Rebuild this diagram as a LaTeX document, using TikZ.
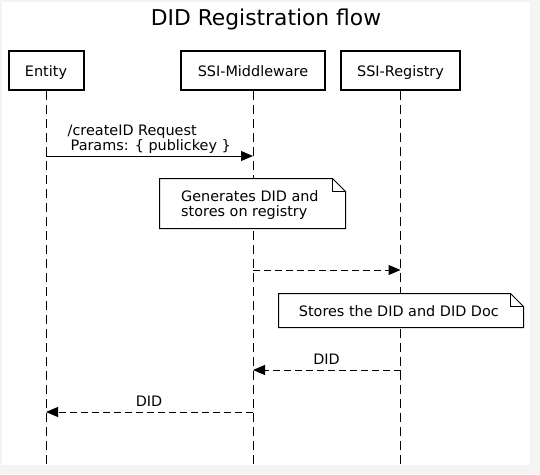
\documentclass[tikz,border=0pt]{standalone}
\usepackage{fontspec}
\setmainfont{DejaVu Sans}
\usetikzlibrary{arrows.meta}
\definecolor{fondo}{HTML}{F4F4F4}
\tikzset{
  caja/.style={draw, line width=2pt, minimum height=39pt, inner sep=0pt,
    text height=14pt, text depth=1.5pt, font=\fontsize{14.4}{17}\selectfont},
  vida/.style={line width=1pt, dash pattern=on 9pt off 5pt},
  msg/.style={line width=1pt, -{Triangle[length=12pt,width=10pt]}},
  resp/.style={msg, dash pattern=on 7pt off 4pt},
  nota/.style={draw, fill=white, line width=1pt},
  etiq/.style={inner sep=0pt, font=\fontsize{14.4}{17}\selectfont},
}
\begin{document}
\begin{tikzpicture}[x=1pt,y=-1pt]
	% fondo
	\fill[fondo] (0,0) rectangle (540,474);
	\fill[white] (2,2) rectangle (530,465);
	
	% titulo
	\node[etiq, anchor=base, font=\fontsize{21.8}{25}\selectfont] (titulo) at (266,25.7) {DID Registration flow};
	
	% participantes
	\node[caja, minimum width=75pt] (entity) at (46,70.5) {Entity};
	\node[caja, minimum width=144pt] (mw) at (253,70.5) {SSI-Middleware};
	\node[caja, minimum width=119pt] (reg) at (400.5,70.5) {SSI-Registry};
	
	% lineas de vida
	\coordinate (entity-fin) at (46,465);
	\coordinate (mw-fin) at (253,465);
	\coordinate (reg-fin) at (400.5,465);
	\draw[vida] (entity) -- (entity-fin);
	\draw[vida] (mw) -- (mw-fin);
	\draw[vida] (reg) -- (reg-fin);
	
	% createID
	\coordinate (m1a) at (entity |- 0,156);
	\coordinate (m1b) at (mw |- 0,156);
	\draw[msg] (m1a) -- (m1b);
	\node[etiq, anchor=base west] (m1t1) at (67.5,135) {/createID Request};
	\node[etiq, anchor=base west] (m1t2) at (70.5,150) {Params: \{ publickey \}};
	
	% nota middleware
	\draw[nota] (159.5,178.5) -- (332.5,178.5) -- (345.5,191.5) -- (345.5,228.5) -- (159.5,228.5) -- cycle;
	\draw[line width=1pt] (332.5,178.5) -- (332.5,191.5) -- (345.5,191.5);
	\node[etiq, anchor=base west] (n1t1) at (181,201.5) {Generates DID and};
	\node[etiq, anchor=base west] (n1t2) at (181,216) {stores on registry};
	
	% middleware -> registry
	\coordinate (m2a) at (mw |- 0,270);
	\coordinate (m2b) at (reg |- 0,270);
	\draw[resp] (m2a) -- (m2b);
	
	% nota registry
	\draw[nota] (278.5,293.5) -- (510.5,293.5) -- (523.5,306.5) -- (523.5,327.5) -- (278.5,327.5) -- cycle;
	\draw[line width=1pt] (510.5,293.5) -- (510.5,306.5) -- (523.5,306.5);
	\node[etiq, anchor=base west] (n2t) at (298.7,316.3) {Stores the DID and DID Doc};
	
	% respuestas
	\coordinate (m3a) at (reg |- 0,370);
	\coordinate (m3b) at (mw |- 0,370);
	\draw[resp] (m3a) -- (m3b);
	\node[etiq, anchor=base] (m3t) at (326.5,364) {DID};
	
	\coordinate (m4a) at (mw |- 0,412);
	\coordinate (m4b) at (entity |- 0,412);
	\draw[resp] (m4a) -- (m4b);
	\node[etiq, anchor=base] (m4t) at (149,406.7) {DID};
\end{tikzpicture}
\end{document}
